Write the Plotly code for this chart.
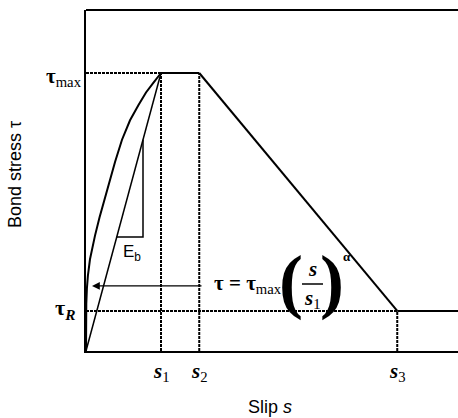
import plotly.graph_objects as go

# Characteristic slips and stresses of the bond-slip law
S_POINTS = [1.0, 1.51, 4.15]          # s1, s2, s3
TAU_MAX = 1.0
TAU_R = 0.144
S_END = 4.96

# Ascending branch tau = tau_max (s/s1)^alpha, sampled points
ASC_S = [0.0, 0.0, 0.004, 0.012, 0.025, 0.053, 0.085, 0.12, 0.18, 0.253, 0.32,
         0.387, 0.48, 0.587, 0.7, 0.8, 0.9, 1.0]
ASC_TAU = [0.0, 0.10, 0.17, 0.225, 0.27, 0.33, 0.375, 0.415, 0.48, 0.55, 0.62,
           0.68, 0.76, 0.83, 0.885, 0.93, 0.965, 1.0]

# Secant-stiffness triangle (E_b)
EB_S = [0.41, 0.76, 0.76]
EB_TAU = [0.41, 0.41, 0.76]

TICK_LABELS = ["<b><i>s</i></b><sub>1</sub>", "<b><i>s</i></b><sub>2</sub>",
               "<b><i>s</i></b><sub>3</sub>"]

W, H = 458, 418
L, R, T, B = 86, 0, 10, 67
PW, PH = W - L - R, H - T - B

SERIF = "Liberation Serif"
SANS = "Liberation Sans"


def px(x):
    return (x - L) / PW


def py(y):
    return (H - B - y) / PH


s1, s2, s3 = S_POINTS
solid = dict(color="black", width=2)
dotted = dict(color="black", width=2, dash="3px,1px")

fig = go.Figure()


def seg(xs, ys, line):
    fig.add_trace(go.Scatter(x=xs, y=ys, mode="lines", line=line,
                             showlegend=False, hoverinfo="skip", cliponaxis=False))


# dotted guide lines
seg([0, s1], [TAU_MAX, TAU_MAX], dotted)
seg([0, s3], [TAU_R, TAU_R], dotted)
seg([s1, s1], [0, TAU_MAX], dotted)
seg([s2, s2], [0, TAU_MAX], dotted)
seg([s3, s3], [0, TAU_R], dotted)

# bond-slip curve
seg(ASC_S, ASC_TAU, solid)
seg([0, s1], [0, TAU_MAX], dict(color="black", width=1.5))
seg([s1, s2], [TAU_MAX, TAU_MAX], solid)
seg([s2, s3], [TAU_MAX, TAU_R], solid)
seg([s3, S_END], [TAU_R, TAU_R], solid)

# stiffness triangle
seg(EB_S, EB_TAU, dict(color="black", width=1.5))

ann = []


def text(x, y, t, size, font=SERIF, xanchor="center", yanchor="middle", xref="paper",
         yref="paper", angle=0):
    ann.append(dict(x=x, y=y, xref=xref, yref=yref, text=t, showarrow=False,
                    xanchor=xanchor, yanchor=yanchor, textangle=angle,
                    font=dict(family=font, size=size, color="black")))


# slip tick labels
for sv, lab in zip(S_POINTS, TICK_LABELS):
    text(sv, py(372), lab, 21, xref="x")

# stress labels
text(px(84), py(77), "<b>τ</b><sub>max</sub>", 21, xanchor="right")
text(px(77), py(309), "<b>τ</b><sub><b><i>R</i></b></sub>", 22, xanchor="right")

# E_b label
text(px(132), py(253), "E<sub>b</sub>", 17, font=SANS)

# formula
text(px(284), py(284), "<b>τ = τ</b><sub>max</sub>", 21, xanchor="right")
text(px(291), py(281), "<b>(</b>", 72)
text(px(332), py(281), "<b>)</b>", 72)
text(px(312), py(269), "<b><i>s</i></b>", 21)
text(px(312), py(299), "<b><i>s</i></b><sub>1</sub>", 21)
text(px(347), py(256), "<b>α</b>", 13)

# arrow pointing to the ascending branch
ann.append(dict(x=0.08, y=0.234, ax=1.56, ay=0.234, xref="x", yref="y", axref="x",
                ayref="y", showarrow=True, arrowhead=2, arrowsize=1.2, arrowwidth=1.3,
                arrowcolor="black", text=""))

# axis titles
text(px(15), py(175), "Bond stress τ", 18, font=SANS, angle=-90)
text(px(270), py(407), "Slip <i>s</i>", 18, font=SANS)

fig.update_layout(
    width=W, height=H,
    margin=dict(l=L, r=R, t=T, b=B, pad=0),
    paper_bgcolor="white", plot_bgcolor="white",
    annotations=ann,
    shapes=[
        dict(type="line", xref="paper", yref="paper", x0=0, x1=1, y0=1, y1=1,
             line=dict(color="black", width=2)),
        dict(type="line", xref="paper", yref="paper", x0=px(302), x1=px(323),
             y0=py(284), y1=py(284), line=dict(color="black", width=1.5)),
    ],
    xaxis=dict(range=[0, S_END], showgrid=False, zeroline=False, showticklabels=False,
               ticks="", showline=True, linecolor="black", linewidth=2),
    yaxis=dict(range=[0, PH / 278], showgrid=False, zeroline=False, showticklabels=False,
               ticks="", showline=True, linecolor="black", linewidth=2),
)

fig.write_html("out.html")
